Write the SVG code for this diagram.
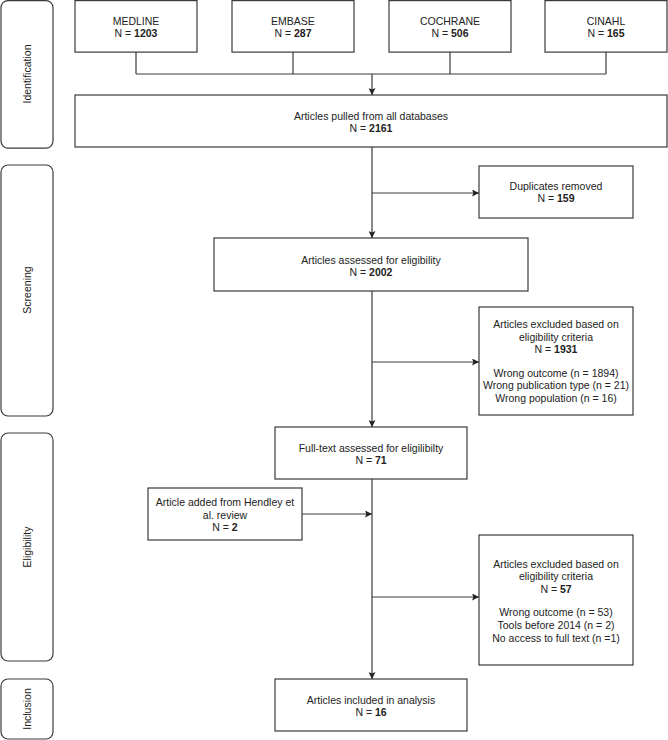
<svg xmlns="http://www.w3.org/2000/svg" width="668" height="740" viewBox="0 0 668 740">
<defs>
<style>
.box{fill:#fff;stroke:#3a3a3a;stroke-width:1.2}
.lane{fill:#fff;stroke:#3a3a3a;stroke-width:1.2}
.t{font-family:"Liberation Sans",Arial,sans-serif;font-size:10.5px;fill:#222;text-anchor:middle}
.b{font-weight:bold}
.c{fill:none;stroke:#3a3a3a;stroke-width:1.2}
</style>
<marker id="ah" viewBox="0 0 10 10" refX="10" refY="5" markerWidth="7" markerHeight="7" markerUnits="userSpaceOnUse" orient="auto">
<path d="M0,0 L10,5 L0,10 L2,5 z" fill="#222"/>
</marker>
</defs>
<rect width="668" height="740" fill="#fff"/>

<g id="lane-identification">
<rect class="lane" x="1" y="0.6" width="52" height="147.5" rx="7"/>
<text class="t" transform="translate(31,74) rotate(-90)">Identification</text>
</g>
<g id="lane-screening">
<rect class="lane" x="1" y="165" width="52" height="251" rx="7"/>
<text class="t" transform="translate(31,290) rotate(-90)">Screening</text>
</g>
<g id="lane-eligibility">
<rect class="lane" x="1" y="433" width="52" height="228" rx="7"/>
<text class="t" transform="translate(31,547) rotate(-90)">Eligibility</text>
</g>
<g id="lane-inclusion">
<rect class="lane" x="1" y="679" width="52" height="60" rx="7"/>
<text class="t" transform="translate(31,709) rotate(-90)">Inclusion</text>
</g>

<g id="medline">
<rect class="box" x="75" y="0.6" width="122" height="51.5"/>
<text class="t" x="136" y="24.5">MEDLINE</text>
<text class="t" x="136" y="36.5">N = <tspan class="b">1203</tspan></text>
</g>
<g id="embase">
<rect class="box" x="232" y="0.6" width="122" height="51.5"/>
<text class="t" x="293" y="24.5">EMBASE</text>
<text class="t" x="293" y="36.5">N = <tspan class="b">287</tspan></text>
</g>
<g id="cochrane">
<rect class="box" x="389" y="0.6" width="122" height="51.5"/>
<text class="t" x="450" y="24.5">COCHRANE</text>
<text class="t" x="450" y="36.5">N = <tspan class="b">506</tspan></text>
</g>
<g id="cinahl">
<rect class="box" x="545" y="0.6" width="122" height="51.5"/>
<text class="t" x="606" y="24.5">CINAHL</text>
<text class="t" x="606" y="36.5">N = <tspan class="b">165</tspan></text>
</g>

<g id="pulled">
<rect class="box" x="75" y="95" width="592" height="52"/>
<text class="t" x="371" y="120">Articles pulled from all databases</text>
<text class="t" x="371" y="132">N = <tspan class="b">2161</tspan></text>
</g>

<g id="duplicates">
<rect class="box" x="479" y="166" width="154" height="52"/>
<text class="t" x="556" y="190">Duplicates removed</text>
<text class="t" x="556" y="202">N = <tspan class="b">159</tspan></text>
</g>

<g id="assessed">
<rect class="box" x="214" y="238" width="314" height="53"/>
<text class="t" x="371" y="264">Articles assessed for eligibility</text>
<text class="t" x="371" y="276">N = <tspan class="b">2002</tspan></text>
</g>

<g id="excluded1">
<rect class="box" x="479" y="307" width="154" height="108"/>
<text class="t" x="556" y="328">Articles excluded based on</text>
<text class="t" x="556" y="341">eligibility criteria</text>
<text class="t" x="556" y="353">N = <tspan class="b">1931</tspan></text>
<text class="t" x="556" y="377">Wrong outcome (n = 1894)</text>
<text class="t" x="556" y="389">Wrong publication type (n = 21)</text>
<text class="t" x="556" y="402">Wrong population (n = 16)</text>
</g>

<g id="fulltext">
<rect class="box" x="275" y="427" width="192" height="52"/>
<text class="t" x="371" y="452">Full-text assessed for eligilibilty</text>
<text class="t" x="371" y="464">N = <tspan class="b">71</tspan></text>
</g>

<g id="hendley">
<rect class="box" x="148" y="488" width="154" height="52"/>
<text class="t" x="225" y="506">Article added from Hendley et</text>
<text class="t" x="225" y="519">al. review</text>
<text class="t" x="225" y="531">N = <tspan class="b">2</tspan></text>
</g>

<g id="excluded2">
<rect class="box" x="479" y="535" width="154" height="130"/>
<text class="t" x="556" y="568">Articles excluded based on</text>
<text class="t" x="556" y="580">eligibility criteria</text>
<text class="t" x="556" y="593">N = <tspan class="b">57</tspan></text>
<text class="t" x="556" y="616">Wrong outcome (n = 53)</text>
<text class="t" x="556" y="629">Tools before 2014 (n = 2)</text>
<text class="t" x="556" y="642">No access to full text (n =1)</text>
</g>

<g id="included">
<rect class="box" x="275" y="679" width="192" height="52"/>
<text class="t" x="371" y="704">Articles included in analysis</text>
<text class="t" x="371" y="716">N = <tspan class="b">16</tspan></text>
</g>

<g id="connectors">
<path class="c" d="M136,52 V74 M293,52 V74 M450,52 V74 M606,52 V74 M136,74 H606"/>
<path class="c" d="M372,74 V95" marker-end="url(#ah)"/>
<path class="c" d="M372,147 V238" marker-end="url(#ah)"/>
<path class="c" d="M372,193 H479" marker-end="url(#ah)"/>
<path class="c" d="M372,291 V427" marker-end="url(#ah)"/>
<path class="c" d="M372,362 H479" marker-end="url(#ah)"/>
<path class="c" d="M372,479 V679" marker-end="url(#ah)"/>
<path class="c" d="M302,514 H372" marker-end="url(#ah)"/>
<path class="c" d="M372,597 H479" marker-end="url(#ah)"/>
</g>
</svg>
